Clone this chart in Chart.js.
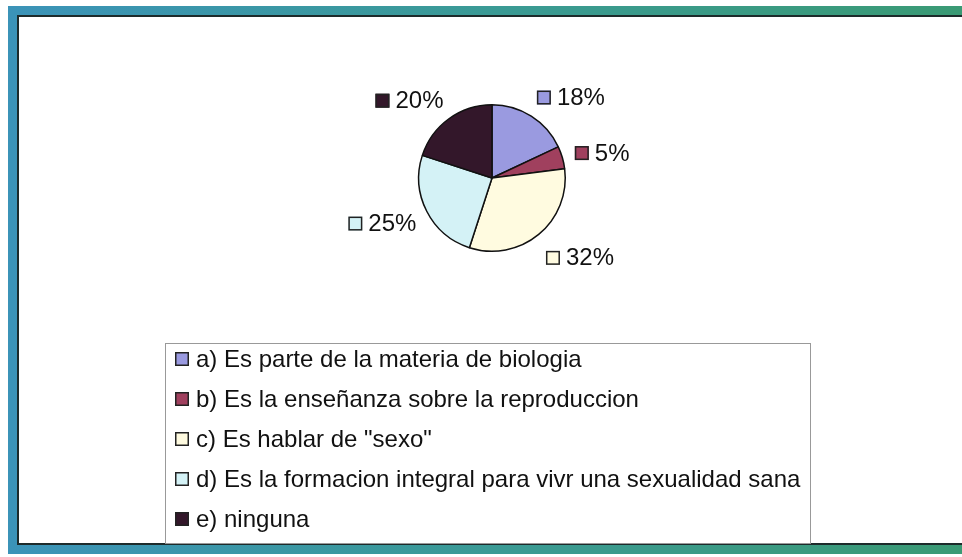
<!DOCTYPE html>
<html>
<head>
<meta charset="utf-8">
<script src="https://cdn.jsdelivr.net/npm/chart.js@4"></script>
<style>
html, body { margin: 0; padding: 0; background: #fff; width: 962px; height: 557px; overflow: hidden; }
#frame { position: absolute; left: 8px; top: 6px; width: 960px; height: 548px;
  background: linear-gradient(90deg, #3b93b8, #3a9a95 50%, #3a9a74); }
#inner { position: absolute; left: 9px; top: 9px; right: 0; bottom: 9px; background: #fff;
  border-left: 2px solid #1d2b2b; border-top: 2px solid #1d2b2b; border-bottom: 2px solid #1d2b2b; }
#chart { position: absolute; left: 0; top: 0; }
</style>
</head>
<body>
<div id="frame"><div id="inner"></div></div>
<canvas id="chart" width="962" height="557"></canvas>
<script>
// answers to the survey question, in legend order
const categories = [
    'a) Es parte de la materia de biologia',
    'b) Es la enseñanza sobre la reproduccion',
    'c) Es hablar de "sexo"',
    'd) Es la formacion integral para vivr una sexualidad sana',
    'e) ninguna'
];
const percentages = [18, 5, 32, 25, 20];
const sliceColors = ['#9a9ae0', '#a0405e', '#fffbe0', '#d4f2f6', '#33172a'];

const FONT = '24px "Liberation Sans", Arial, sans-serif';

function drawMarker(ctx, x, y, color) {
    ctx.fillStyle = color;
    ctx.fillRect(x, y - 7, 14, 14);
    ctx.strokeStyle = '#222';
    ctx.lineWidth = 1.5;
    ctx.strokeRect(x + 0.75, y - 6.25, 12.5, 12.5);
}

// percentage labels next to each slice, Excel style
const sliceLabels = {
    id: 'sliceLabels',
    afterDatasetsDraw(chart) {
        const ctx = chart.ctx;
        const meta = chart.getDatasetMeta(0);
        const values = chart.data.datasets[0].data;
        const total = values.reduce((a, b) => a + b, 0);
        ctx.save();
        ctx.font = FONT;
        ctx.textBaseline = 'middle';
        meta.data.forEach((arc, i) => {
            const p = arc.getProps(['x', 'y', 'startAngle', 'endAngle', 'outerRadius'], true);
            const mid = (p.startAngle + p.endAngle) / 2;
            const ax = p.x + Math.cos(mid) * p.outerRadius * 1.22;
            let ay = p.y + Math.sin(mid) * p.outerRadius * 1.22;
            if (Math.sin(mid) > 0.5) ay += 11;
            else if (Math.sin(mid) < -0.5) ay -= 5;
            else if (Math.cos(mid) < 0) ay += 5;
            const text = Math.round(values[i] / total * 100) + '%';
            const w = 14 + 6 + ctx.measureText(text).width;
            const left = Math.cos(mid) >= 0 ? ax - 3 : ax - w + 4;
            drawMarker(ctx, left, ay, sliceColors[i]);
            ctx.fillStyle = '#111';
            ctx.textAlign = 'left';
            ctx.fillText(text, left + 20, ay + 1);
        });
        ctx.restore();
    }
};

// boxed legend under the pie
const boxLegend = {
    id: 'boxLegend',
    afterDraw(chart) {
        const ctx = chart.ctx;
        ctx.save();
        ctx.strokeStyle = '#999';
        ctx.lineWidth = 1;
        ctx.strokeRect(165.5, 343.5, 645, 200);
        ctx.font = FONT;
        ctx.textBaseline = 'middle';
        ctx.textAlign = 'left';
        categories.forEach((label, i) => {
            const y = 359 + i * 40;
            drawMarker(ctx, 175, y, sliceColors[i]);
            ctx.fillStyle = '#111';
            ctx.fillText(label, 196, y + 1);
        });
        ctx.restore();
    }
};

new Chart(document.getElementById('chart').getContext('2d'), {
    type: 'pie',
    data: {
        labels: categories,
        datasets: [{
            data: percentages,
            backgroundColor: sliceColors,
            borderColor: '#111',
            borderWidth: 1.5
        }]
    },
    options: {
        responsive: false,
        animation: false,
        layout: {
            padding: { left: 418, right: 396, top: 104, bottom: 305 }
        },
        plugins: {
            legend: { display: false },
            tooltip: { enabled: false }
        }
    },
    plugins: [sliceLabels, boxLegend]
});
</script>
</body>
</html>
